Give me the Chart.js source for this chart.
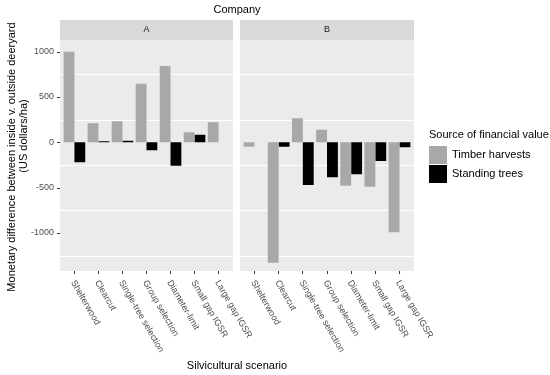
<!DOCTYPE html>
<html>
<head>
<meta charset="utf-8">
<script src="https://cdn.jsdelivr.net/npm/chart.js@4.4.0/dist/chart.umd.min.js"></script>
<style>
  body { margin: 0; background: #fff; }
  #wrap { position: relative; width: 550px; height: 375px; }
  canvas { position: absolute; left: 0; top: 0; }
</style>
</head>
<body>
<div id="wrap">
  <canvas id="panelA" width="550" height="375"></canvas>
  <canvas id="panelB" width="550" height="375"></canvas>
</div>
<script>
const categories = ["Shelterwood", "Clearcut", "Single-tree selection", "Group selection",
  "Diameter-limit", "Small gap IGSR", "Large gap IGSR"];
const seriesNames = ["Timber harvests", "Standing trees"];

// company A
const timberA = [1000, 210, 232, 647, 842, 110, 221];
const standingA = [-221, 12, 18, -88, -258, 84, null];
// company B
const timberB = [-49, -1329, 265, 139, -479, -490, -993];
const standingB = [null, -49, -471, -386, -353, -206, -55];

const yTicks = [-1000, -500, 0, 500, 1000];       // labelled ticks
const yMinor = [-1250, -750, -250, 250, 750];     // white grid lines
const yMin = -1420, yMax = 1129;

const FONT = "'Liberation Sans', Arial, sans-serif";
const GREY = "#A8A8A8";
const BLACK = "#000000";
// ggplot pads a discrete axis by 0.6 of a category, chart.js by 0.5
const EXT = 2.4;

// panel background, grid lines, facet strip
const panelBg = {
  id: "panelBg",
  beforeDraw(chart, args, opts) {
    const { ctx, chartArea: a } = chart;
    const y = chart.scales.y;
    const left = a.left - EXT, w = a.right - a.left + 2 * EXT;
    ctx.save();
    ctx.fillStyle = "#EBEBEB";
    ctx.fillRect(left, a.top, w, a.bottom - a.top);
    ctx.strokeStyle = "#FFFFFF";
    ctx.lineWidth = 1.2;
    yMinor.forEach(v => {
      const py = Math.round(y.getPixelForValue(v)) + 0.5;
      ctx.beginPath();
      ctx.moveTo(left, py);
      ctx.lineTo(left + w, py);
      ctx.stroke();
    });
    ctx.fillStyle = "#D9D9D9";
    ctx.fillRect(left, a.top - 20, w, 20);
    ctx.fillStyle = "#1A1A1A";
    ctx.font = "9px " + FONT;
    ctx.textAlign = "center";
    ctx.textBaseline = "middle";
    ctx.fillText(opts.strip, (a.left + a.right) / 2, a.top - 10);
    ctx.restore();
  }
};

// rotated category labels (text starts at the tick and runs down-right)
const xLabels = {
  id: "xLabels",
  afterDraw(chart) {
    const { ctx } = chart;
    const x = chart.scales.x;
    ctx.save();
    ctx.font = "9px " + FONT;
    ctx.fillStyle = "#4D4D4D";
    ctx.textAlign = "left";
    ctx.textBaseline = "middle";
    categories.forEach((c, i) => {
      ctx.save();
      ctx.translate(x.getPixelForValue(i) - 1.5, chart.chartArea.bottom + 10);
      ctx.rotate(Math.PI / 3);
      ctx.fillText(c, 0, 0);
      ctx.restore();
    });
    ctx.restore();
  }
};

// titles and y tick marks (only on panel A)
const titles = {
  id: "titles",
  afterDraw(chart) {
    const { ctx, chartArea: a } = chart;
    const y = chart.scales.y;
    ctx.save();
    ctx.strokeStyle = "#333333";
    ctx.lineWidth = 1;
    const edge = a.left - EXT;
    yTicks.forEach(v => {
      const py = Math.round(y.getPixelForValue(v)) + 0.5;
      ctx.beginPath();
      ctx.moveTo(edge - 3, py);
      ctx.lineTo(edge, py);
      ctx.stroke();
    });
    ctx.fillStyle = "#000";
    ctx.font = "11px " + FONT;
    ctx.textAlign = "center";
    ctx.textBaseline = "middle";
    ctx.fillText("Company", 237, 10);
    ctx.fillText("Silvicultural scenario", 237, 366);
    ctx.save();
    ctx.translate(11.5, 157);
    ctx.rotate(-Math.PI / 2);
    ctx.fillText("Monetary difference between inside v. outside deeryard", 0, 0);
    ctx.restore();
    ctx.save();
    ctx.translate(23.5, 136);
    ctx.rotate(-Math.PI / 2);
    ctx.fillText("(US dollars/ha)", 0, 0);
    ctx.restore();
    ctx.restore();
  }
};

const legendBox = {
  id: "legendBox",
  afterDraw(chart) {
    const { ctx } = chart;
    ctx.save();
    ctx.font = "11px " + FONT;
    ctx.fillStyle = "#000";
    ctx.textAlign = "left";
    ctx.textBaseline = "middle";
    ctx.fillText("Source of financial value", 429, 135);
    chart.data.datasets.forEach((ds, i) => {
      const top = 146 + i * 19;
      ctx.fillStyle = ds.backgroundColor;
      ctx.fillRect(429, top, 18, 18);
      ctx.fillStyle = "#000";
      ctx.fillText(ds.label, 452, top + 9);
    });
    ctx.restore();
  }
};

function makePanel(id, strip, timber, standing, showY, pad) {
  return new Chart(document.getElementById(id), {
    type: "bar",
    data: {
      labels: categories,
      datasets: [
        { label: seriesNames[0], data: timber, backgroundColor: GREY },
        { label: seriesNames[1], data: standing, backgroundColor: BLACK }
      ]
    },
    options: {
      responsive: false,
      animation: false,
      datasets: { bar: { categoryPercentage: 0.9, barPercentage: 1.0, borderWidth: 0 } },
      layout: { padding: pad },
      plugins: {
        legend: { display: false },
        tooltip: { enabled: false },
        panelBg: { strip: strip }
      },
      scales: {
        x: {
          afterFit: s => { s.height = 104; },
          ticks: { display: false },
          grid: { offset: false, color: "rgba(0,0,0,0)", tickColor: "#333333", tickLength: 3 },
          border: { display: false }
        },
        y: {
          min: yMin,
          max: yMax,
          afterBuildTicks: s => { s.ticks = yTicks.map(v => ({ value: v })); },
          afterFit: s => { s.width = showY ? 60 : 0; },
          ticks: {
            display: showY,
            color: "#4D4D4D",
            font: { size: 9, family: FONT },
            padding: 6 + EXT,
            autoSkip: false,
            callback: v => String(v)
          },
          grid: { display: false, drawTicks: false },
          border: { display: false }
        }
      }
    },
    plugins: showY ? [panelBg, xLabels, titles] : [panelBg, xLabels, legendBox]
  });
}

makePanel("panelA", "A", timberA, standingA, true,
  { left: EXT, right: 550 - 233 + EXT, top: 40, bottom: 0 });
makePanel("panelB", "B", timberB, standingB, false,
  { left: 240 + EXT, right: 550 - 414 + EXT, top: 40, bottom: 0 });
</script>
</body>
</html>
